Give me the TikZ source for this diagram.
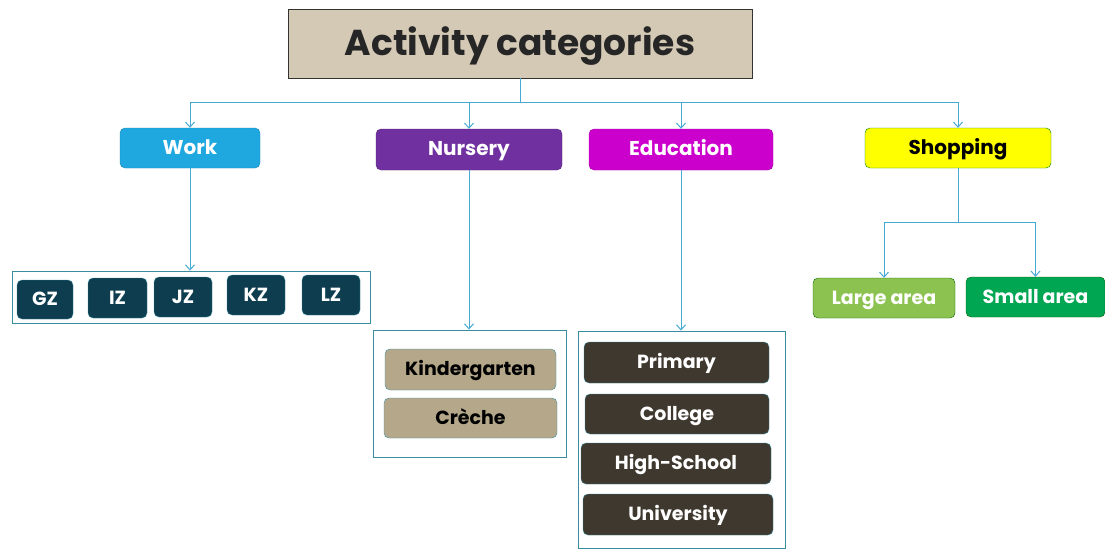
\documentclass[tikz,border=0pt]{standalone}
\usepackage{fontspec}
\setmainfont{Poppins}
\usetikzlibrary{arrows.meta}
\definecolor{conn}{RGB}{70,170,212}
\definecolor{titlefill}{RGB}{212,201,181}
\definecolor{workc}{RGB}{31,168,224}
\definecolor{nursc}{RGB}{112,48,160}
\definecolor{educ}{RGB}{204,0,204}
\definecolor{shopc}{RGB}{255,255,0}
\definecolor{zonec}{RGB}{13,61,79}
\definecolor{kinder}{RGB}{181,168,138}
\definecolor{schoolc}{RGB}{63,56,46}
\definecolor{largec}{RGB}{140,195,80}
\definecolor{smallc}{RGB}{0,166,81}
\definecolor{boxline}{RGB}{60,140,160}
\tikzset{
  catbox/.style={rounded corners=5pt, draw=#1!80!black, fill=#1, text=white, font=\bfseries\fontsize{20}{24}\selectfont, inner sep=0pt, text height=16pt, text depth=3.5pt},
  itembox/.style={rounded corners=5pt, draw=boxline, fill=#1, text=white, font=\bfseries\fontsize{19}{23}\selectfont, inner sep=0pt, text height=15.5pt, text depth=3.5pt},
  holder/.style={draw=boxline, line width=0.9pt, inner sep=0pt},
  link/.style={draw=conn, line width=1pt},
  arr/.style={link, -{Straight Barb[length=5pt,width=9pt]}},
}
\begin{document}
\begin{tikzpicture}[x=1pt,y=-1pt]
\useasboundingbox (0,0) rectangle (1105,550);
% title
\node[draw=black!80, line width=0.9pt, fill=titlefill, minimum width=464, minimum height=69, inner sep=0pt,
  font=\bfseries\fontsize{36}{42}\selectfont, text=black!85, text height=30pt, text depth=6pt] (title) at (520,43.5) {Activity categories};
% categories
\node[catbox=workc, minimum width=140, minimum height=40] (work) at (190,148) {Work};
\node[catbox=nursc, minimum width=186, minimum height=41] (nurs) at (469,149.5) {Nursery};
\node[catbox=educ, minimum width=184, minimum height=41] (edu) at (681,149.5) {Education};
\node[catbox=shopc, draw=green!50!black, text=black, minimum width=186, minimum height=40] (shop) at (958,148) {Shopping};
% containers
\node[holder, minimum width=358, minimum height=52] (wcont) at (191,297) {};
\node[holder, minimum width=193, minimum height=127] (ncont) at (469.5,393.5) {};
\node[holder, minimum width=207, minimum height=217] (econt) at (681.5,439.5) {};
% zones
\node[itembox=zonec, minimum width=56, minimum height=39] (gz) at (45,299.5) {GZ};
\node[itembox=zonec, minimum width=59, minimum height=40] (iz) at (117.5,298) {IZ};
\node[itembox=zonec, minimum width=58, minimum height=40] (jz) at (183,297) {JZ};
\node[itembox=zonec, minimum width=58, minimum height=40] (kz) at (256,295) {KZ};
\node[itembox=zonec, minimum width=58, minimum height=40] (lz) at (331,295) {LZ};
% nursery items
\node[itembox=kinder, text=black, minimum width=171, minimum height=41] (kg) at (470.5,369.5) {Kindergarten};
\node[itembox=kinder, text=black, minimum width=173, minimum height=40] (cr) at (470.5,418) {Crèche};
% education items
\node[itembox=schoolc, minimum width=185, minimum height=41] (pri) at (676.5,362.5) {Primary};
\node[itembox=schoolc, minimum width=184, minimum height=40] (col) at (677,414) {College};
\node[itembox=schoolc, minimum width=190, minimum height=41] (hs) at (676,463.5) {High-School};
\node[itembox=schoolc, minimum width=190, minimum height=41] (uni) at (678,514.5) {University};
% shopping items
\node[itembox=largec, draw=green!40!black, minimum width=142, minimum height=40] (large) at (884,298) {Large area};
\node[itembox=smallc, draw=green!40!black, minimum width=139, minimum height=40] (small) at (1035.5,297) {Small area};
% connectors
\coordinate (bus) at (0,102);
\coordinate (sbus) at (0,222);
\draw[link] (title.south) -- (title.south |- bus);
\draw[link] (work.north |- bus) -- (shop.north |- bus);
\draw[arr] (work.north |- bus) -- (work.north);
\draw[arr] (nurs.north |- bus) -- (nurs.north);
\draw[arr] (edu.north |- bus) -- (edu.north);
\draw[arr] (shop.north |- bus) -- (shop.north);
\draw[arr] (work.south) -- (work.south |- wcont.north);
\draw[arr] (nurs.south) -- (nurs.south |- ncont.north);
\draw[arr] (edu.south) -- (edu.south |- econt.north);
\draw[link] (shop.south) -- (shop.south |- sbus);
\draw[link] (large.north |- sbus) -- (small.north |- sbus);
\draw[arr] (large.north |- sbus) -- (large.north);
\draw[arr] (small.north |- sbus) -- (small.north);
\end{tikzpicture}
\end{document}
